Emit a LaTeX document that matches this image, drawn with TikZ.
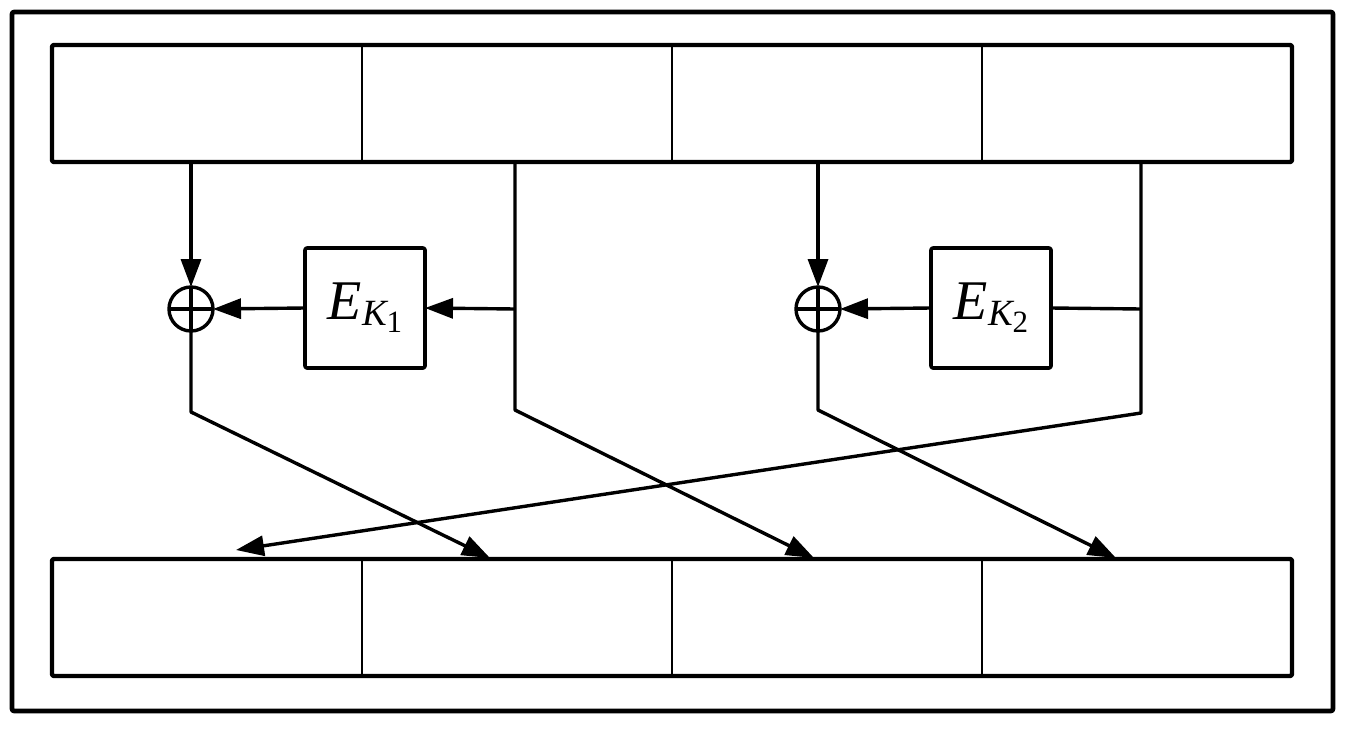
\documentclass[tikz,border=0pt]{standalone}
\usepackage{fontspec}
\setmainfont{Liberation Serif}
\usetikzlibrary{arrows.meta}
\newcommand{\ekey}[1]{\fontsize{56}{60}\selectfont\itshape E\raisebox{-6pt}{\fontsize{37}{40}\selectfont K\raisebox{-7pt}{\upshape\fontsize{31}{34}\selectfont #1}}}
\begin{document}
\begin{tikzpicture}[x=1pt,y=-1pt,
  line join=round,
  wire/.style={line width=3.4pt},
  arr/.style={wire,-{Triangle[length=28pt,width=20pt]}},
  cell/.style={draw,line width=2.6pt,minimum width=310pt,minimum height=117pt,inner sep=0pt,outer sep=0pt},
  regframe/.style={line width=4.4pt,rounded corners=2pt},
  ebox/.style={draw,line width=3.6pt,rounded corners=2pt,minimum width=120pt,minimum height=120pt,inner sep=0pt,outer sep=0pt},
  xor/.style={draw,circle,line width=3.4pt,minimum size=44pt,inner sep=0pt,outer sep=0pt}
]
\useasboundingbox (0,0) rectangle (1348,728);
\draw[line width=4.6pt,rounded corners=2pt] (12,12) rectangle (1333,711);

% registers
\foreach \i/\x in {1/207,2/517,3/827,4/1137}{
  \node[cell] (t\i) at (\x,103.5) {};
  \node[cell] (u\i) at (\x,617.5) {};
}
\draw[regframe] (t1.north west) rectangle (t4.south east);
\draw[regframe] (u1.north west) rectangle (u4.south east);

% function boxes and xors
\node[xor] (x1) at (191,309) {};
\node[xor] (x2) at (818,309) {};
\node[ebox] (e1) at (365,308) {\raisebox{-3pt}{\ekey{1}}};
\node[ebox] (e2) at (991,308) {\raisebox{-3pt}{\ekey{2}}};
\draw[wire] (x1.north) -- (x1.south) (x1.west) -- (x1.east);
\draw[wire] (x2.north) -- (x2.south) (x2.west) -- (x2.east);

% coordinates
\coordinate (s1) at (191,162);
\coordinate (s2) at (515,162);
\coordinate (s3) at (818,162);
\coordinate (s4) at (1141,162);
\coordinate (j2) at (515,309);
\coordinate (j4) at (1141,309);
\coordinate (b1) at (191,412);
\coordinate (b2) at (515,410);
\coordinate (b3) at (818,410);
\coordinate (b4) at (1141,413);
\coordinate (d1) at (490,558);
\coordinate (d2) at (814,558);
\coordinate (d3) at (1116,558);
\coordinate (d4) at (236,550);

% connectors
\draw[arr] (s1) -- (x1.north);
\draw[arr] (s3) -- (x2.north);
\draw[arr] (s2) -- (b2) -- (d2);
\draw[arr] (j2) -- (e1.east);
\draw[arr] (e1.west) -- (x1.east);
\draw[arr] (x1.south) -- (b1) -- (d1);
\draw[arr] (s4) -- (b4) -- (d4);
\draw[wire] (j4) -- (e2.east);
\draw[arr] (e2.west) -- (x2.east);
\draw[arr] (x2.south) -- (b3) -- (d3);
\end{tikzpicture}
\end{document}
